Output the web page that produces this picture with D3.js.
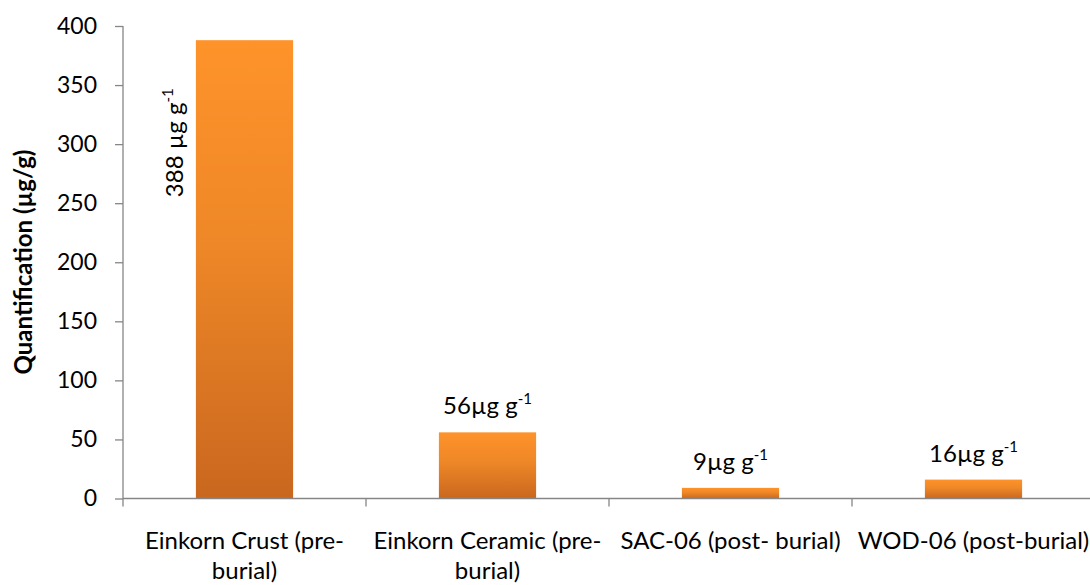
<!DOCTYPE html>
<html>
<head>
<meta charset="utf-8">
<script src="https://cdn.jsdelivr.net/npm/d3@7"></script>
<style>
  html, body { margin: 0; padding: 0; background: #fff; }
  svg { display: block; font-family: Lato, "Open Sans", sans-serif; }
</style>
</head>
<body>
<svg id="chart" width="1090" height="585"></svg>
<script>
// Sample names (each entry is the list of lines under the axis)
const categories = [
  ["Einkorn Crust (pre-", "burial)"],
  ["Einkorn Ceramic (pre-", "burial)"],
  ["SAC-06 (post- burial)"],
  ["WOD-06 (post-burial)"]
];
// Quantified amount, µg/g
const values = [388, 56, 9, 16];
// Value labels (main text + superscript)
const labelMain = ["388 µg g", "56µg g", "9µg g", "16µg g"];
const labelSup = ["-1", "-1", "-1", "-1"];
const yTicks = [0, 50, 100, 150, 200, 250, 300, 350, 400];
const yTitle = "Quantification (µg/g)";

const svg = d3.select("#chart");
const plotLeft = 123, plotRight = 1095, plotTop = 26, plotBottom = 498.5;
const axisColor = "#868686";

const keys = categories.map((c, i) => "c" + i);
const x = d3.scaleBand().domain(keys).range([plotLeft, plotRight]).paddingInner(0.6).paddingOuter(0.3);
const xEdge = d3.scaleBand().domain(keys).range([plotLeft, plotRight]).padding(0);
const y = d3.scaleLinear().domain([0, 400]).range([plotBottom, plotTop]);

// bar gradient: bright orange on top fading to burnt orange at the base
const grad = svg.append("defs").append("linearGradient")
  .attr("id", "barFill").attr("x1", 0).attr("y1", 0).attr("x2", 0).attr("y2", 1);
grad.append("stop").attr("offset", "0%").attr("stop-color", "#FE932A");
grad.append("stop").attr("offset", "45%").attr("stop-color", "#EE8727");
grad.append("stop").attr("offset", "100%").attr("stop-color", "#C9671F");

// bars
svg.append("g").selectAll("rect").data(values).join("rect")
  .attr("x", (d, i) => x(keys[i]))
  .attr("width", x.bandwidth())
  .attr("y", d => y(d))
  .attr("height", d => y(0) - y(d))
  .attr("fill", "url(#barFill)");

// y axis
const yAxis = d3.axisLeft(y).tickValues(yTicks).tickSize(8).tickPadding(18).tickSizeOuter(0);
const gy = svg.append("g").attr("transform", `translate(${plotLeft},0)`).call(yAxis);
gy.select(".domain").remove();
gy.selectAll(".tick line").attr("stroke", axisColor).attr("stroke-width", 1.3);
gy.selectAll(".tick text").attr("fill", "#000").style("font-size", "23px")
  .style("font-family", "Lato, sans-serif");
svg.append("line").attr("x1", plotLeft).attr("x2", plotLeft).attr("y1", plotTop).attr("y2", plotBottom + 8)
  .attr("stroke", axisColor).attr("stroke-width", 1.3);

// x axis line with tick marks between categories
svg.append("line").attr("x1", plotLeft).attr("x2", plotRight).attr("y1", plotBottom).attr("y2", plotBottom)
  .attr("stroke", axisColor).attr("stroke-width", 1.3);
const edges = keys.map(k => xEdge(k)).concat([xEdge(keys[keys.length - 1]) + xEdge.bandwidth()]);
svg.append("g").selectAll("line").data(edges.slice(1)).join("line")
  .attr("x1", d => d).attr("x2", d => d).attr("y1", plotBottom).attr("y2", plotBottom + 8)
  .attr("stroke", axisColor).attr("stroke-width", 1.3);

// category labels
const catG = svg.append("g").style("font-size", "24px").attr("fill", "#000");
categories.forEach((lines, i) => {
  const cx = x(keys[i]) + x.bandwidth() / 2;
  const t = catG.append("text").attr("text-anchor", "middle");
  lines.forEach((ln, j) => {
    t.append("tspan").attr("x", cx).attr("y", 549 + j * 30).text(ln);
  });
});

// y axis title
svg.append("text")
  .attr("transform", "translate(32,262) rotate(-90)")
  .attr("text-anchor", "middle")
  .style("font-size", "24px").style("font-weight", "bold")
  .text(yTitle);

// value labels
const lblG = svg.append("g").style("font-size", "24px").attr("fill", "#000");
values.forEach((v, i) => {
  const cx = x(keys[i]) + x.bandwidth() / 2;
  let t;
  if (i === 0) {
    // tall bar: label set vertically beside the bar
    t = lblG.append("text")
      .attr("transform", `translate(${x(keys[i]) - 13},${y(v) + 157}) rotate(-90)`)
      .attr("text-anchor", "start");
  } else {
    t = lblG.append("text").attr("x", cx).attr("y", y(v) - 18).attr("text-anchor", "middle");
  }
  t.append("tspan").text(labelMain[i]);
  t.append("tspan").attr("dy", -10).style("font-size", "15px").text(labelSup[i]);
});
</script>
</body>
</html>
